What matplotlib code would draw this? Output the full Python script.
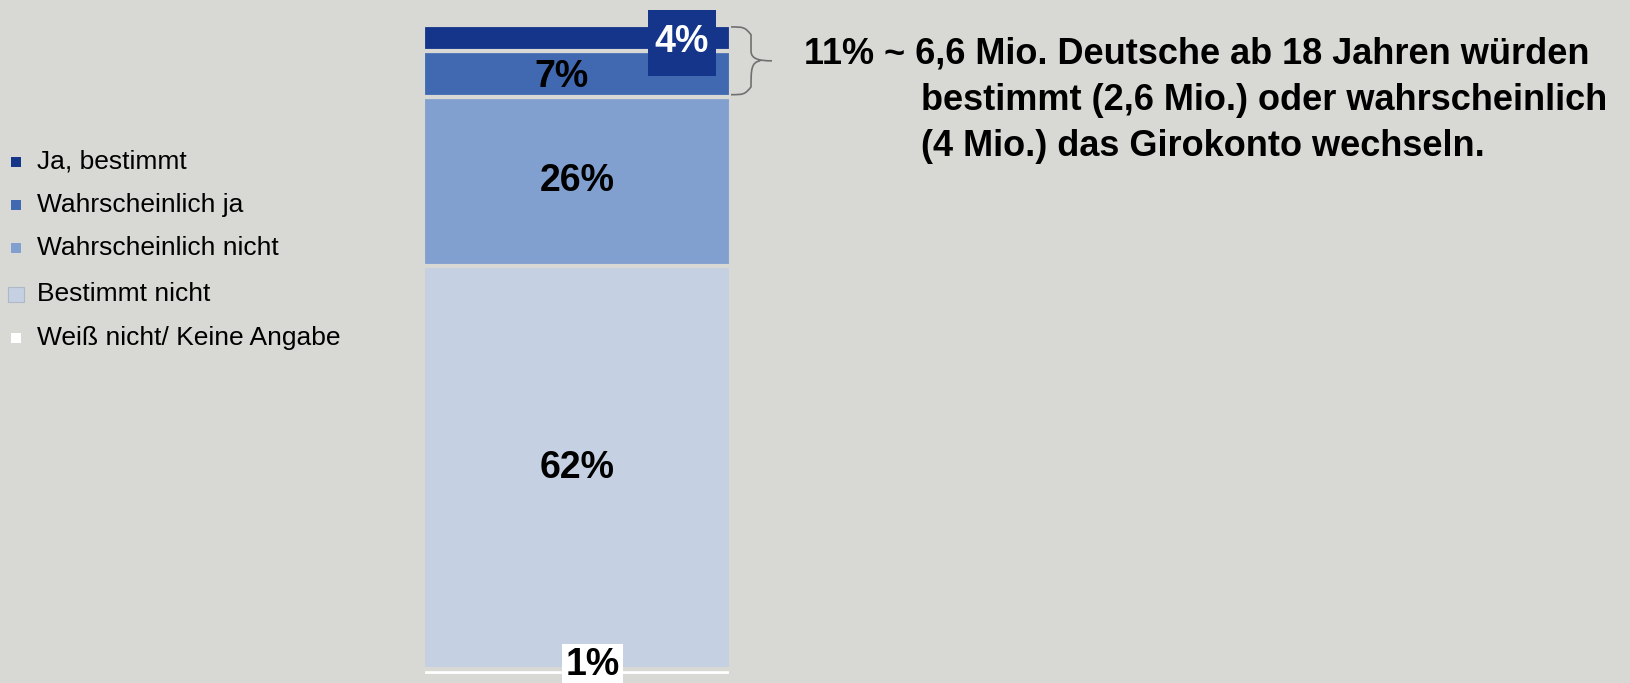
import matplotlib.pyplot as plt
from matplotlib.patches import Rectangle
from matplotlib.path import Path
from matplotlib.patches import PathPatch

plt.rcParams['font.family'] = ['Liberation Sans', 'DejaVu Sans']

# data (bottom to top in the stacked bar)
categories = ['Ja, bestimmt', 'Wahrscheinlich ja', 'Wahrscheinlich nicht',
              'Bestimmt nicht', 'Weiß nicht/ Keine Angabe']
values = [4, 7, 26, 62, 1]
colors = ['#14358a', '#4169b2', '#819fcf', '#c6d0e3', '#ffffff']
note_lines = ['11% ~ 6,6 Mio. Deutsche ab 18 Jahren würden',
              'bestimmt (2,6 Mio.) oder wahrscheinlich',
              '(4 Mio.) das Girokonto wechseln.']

bg = '#d8d9d4'
W, H = 1631, 683
fig = plt.figure(figsize=(W / 100, H / 100), dpi=100, facecolor=bg)

# bar axes placed in pixel terms
bx0, bx1, by_top, by_bot = 423, 731, 25, 676
ax = fig.add_axes([bx0 / W, (H - by_bot) / H, (bx1 - bx0) / W, (by_bot - by_top) / H])
ax.set_facecolor(bg)
ax.set_xlim(-0.5, 0.5)
ax.set_ylim(0, 100)
ax.axis('off')

# stack from bottom: last category at the bottom
bottom = 0
seg = {}
for cat, v, c in reversed(list(zip(categories, values, colors))):
    ax.bar(0, v, width=1.0, bottom=bottom, color=c, edgecolor=bg, linewidth=3)
    seg[cat] = (bottom, v)
    bottom += v

fs = 27
# labels
b, v = seg['Wahrscheinlich nicht']
ax.text(0, b + v / 2, f'{v}%', ha='center', va='center', fontsize=fs, fontweight='bold')
b, v = seg['Bestimmt nicht']
ax.text(0, b + v / 2, f'{v}%', ha='center', va='center', fontsize=fs, fontweight='bold')
b, v = seg['Wahrscheinlich ja']
ax.text(-0.05, b + v / 2 - 0.5, f'{v}%', ha='center', va='center', fontsize=fs, fontweight='bold')

# dark label box for the top segment, sticking out above the bar
b, v = seg['Ja, bestimmt']
ax.add_patch(Rectangle((0.23, 92.2), 0.221, 10.1, fc=colors[0], ec='none', clip_on=False))
ax.text(0.34, 97.4, f'{v}%', ha='center', va='center', fontsize=fs,
        fontweight='bold', color='white', clip_on=False)

b, v = seg['Weiß nicht/ Keine Angabe']
ax.text(0.05, b + v / 2 + 1.2, f'{v}%', ha='center', va='center', fontsize=fs,
        fontweight='bold', color='black', clip_on=False,
        bbox=dict(boxstyle='square,pad=0.08', fc='white', ec='none'))

# brace over the two top segments
top = 100
low = 100 - values[0] - values[1]
mid = (top + low) / 2
x0, x1, x2 = 0.5, 0.565, 0.633
verts = [(x0, top - 0.3), (x0 + 0.04, top - 0.3), (x1 - 0.02, top - 0.3), (x1, top - 1.5),
         (x1, mid + 1.5), (x1, mid + 0.2), (x1 + 0.03, mid), (x2, mid),
         (x1 + 0.03, mid), (x1, mid - 0.2), (x1, mid - 1.5),
         (x1, low + 1.5), (x1 - 0.02, low + 0.3), (x0 + 0.04, low + 0.3), (x0, low + 0.3)]
codes = [Path.MOVETO, Path.CURVE4, Path.CURVE4, Path.CURVE4,
         Path.LINETO, Path.CURVE4, Path.CURVE4, Path.CURVE4,
         Path.MOVETO, Path.CURVE4, Path.CURVE4,
         Path.LINETO, Path.CURVE4, Path.CURVE4, Path.CURVE4]
ax.add_patch(PathPatch(Path(verts, codes), fc='none', ec='#707070', lw=1.2, clip_on=False))

# note text
fig.text(804 / W, 1 - 54 / H, note_lines[0], ha='left', va='center',
         fontsize=26, fontweight='bold')
for i, line in enumerate(note_lines[1:]):
    fig.text(921 / W, 1 - (101 + 45 * i) / H, line, ha='left', va='center',
             fontsize=26, fontweight='bold')

# legend
leg_y = [162, 205, 248, 294, 338]
for cat, c, y in zip(categories, colors, leg_y):
    s = 15 if cat == 'Bestimmt nicht' else 10
    ec = '#b0b8c8' if cat == 'Bestimmt nicht' else 'none'
    fig.patches.append(Rectangle(((16 - s / 2) / W, (H - y - s / 2) / H), s / W, s / H,
                                 transform=fig.transFigure, fc=c, ec=ec, lw=0.8))
    fig.text(37 / W, 1 - y / H, cat, ha='left', va='center', fontsize=19)

fig.savefig('out.png', dpi=100, facecolor=bg)
